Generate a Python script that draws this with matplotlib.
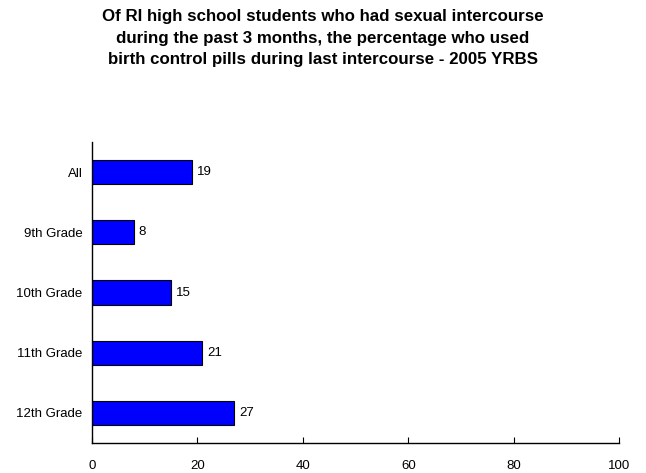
import matplotlib
matplotlib.use("Agg")
import matplotlib.pyplot as plt

plt.rcParams['font.family'] = ['Liberation Sans', 'DejaVu Sans']

categories = ["All", "9th Grade", "10th Grade", "11th Grade", "12th Grade"]
values = [19, 8, 15, 21, 27]
xticks = [0, 20, 40, 60, 80, 100]
title = ("Of RI high school students who had sexual intercourse\n"
         "during the past 3 months, the percentage who used\n"
         "birth control pills during last intercourse - 2005 YRBS")

fig = plt.figure(figsize=(6.46, 4.73), dpi=100)
ax = fig.add_axes([91.7/646, 1 - 443/473, (619.3 - 91.7)/646, (443 - 142)/473])

y = list(range(len(categories)))
ax.barh(y, values, height=0.4, color="#0000FF", edgecolor="#000000", linewidth=0.8)
for yi, v in zip(y, values):
    ax.text(v + 0.9, yi, str(v), va="center", ha="left", fontsize=9.5)

ax.set_ylim(len(categories) - 0.5, -0.5)
ax.set_xlim(0, 100)
ax.set_yticks(y)
ax.set_yticklabels(categories, fontsize=9.5)
ax.set_xticks(xticks)
ax.set_xticklabels([str(t) for t in xticks], fontsize=9.5)
ax.tick_params(axis="y", length=0, pad=6.5)
ax.tick_params(axis="x", direction="in", length=4, pad=12.5)
for s in ["top", "right"]:
    ax.spines[s].set_visible(False)
ax.spines["left"].set_linewidth(1)
ax.spines["bottom"].set_linewidth(1)

fig.text(0.5, 1 - 9/473, title, ha="center", va="top", fontsize=12.2,
         fontweight="bold", linespacing=1.55)

fig.savefig("out.png", dpi=100)
